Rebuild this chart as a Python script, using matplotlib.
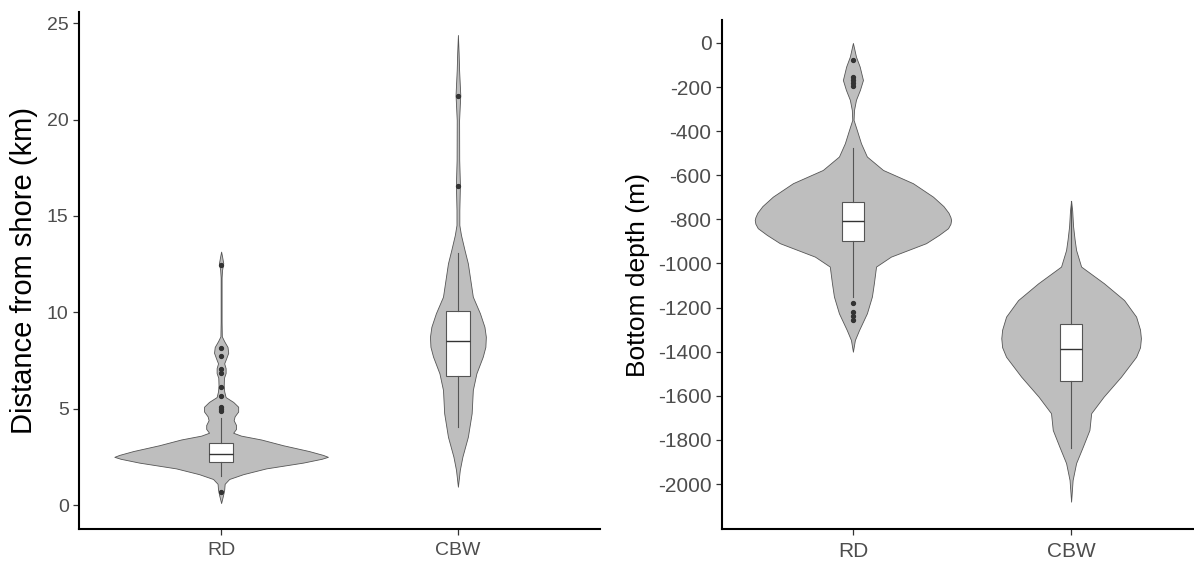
import matplotlib
matplotlib.use("Agg")
import matplotlib.pyplot as plt

plt.rcParams['font.family'] = ['Liberation Sans', 'DejaVu Sans']

categories = ["RD", "CBW"]

# violin outlines: value, half width (x units)
dist_rd_v = [13.15, 12.9, 12.55, 12.2, 11.8, 9.5, 8.75, 8.5, 8.2, 7.9, 7.6, 7.35, 7.1, 6.85, 6.6,
             6.2, 5.9, 5.6, 5.35, 5.1, 4.85, 4.6, 4.4, 4.15, 3.95, 3.75, 3.6, 3.4, 3.1, 2.8, 2.6, 2.5,
             2.4, 2.2, 1.9, 1.6, 1.35, 1.1, 0.8, 0.5, 0.1]
dist_rd_w = [0, .004, .009, .004, .002, .002, .003, .013, .027, .030, .021, .013, .019, .019, .012,
             .011, .013, .019, .051, .072, .072, .057, .053, .063, .063, .051, .084, .169, .262, .371, .43, .451,
             .425, .346, .190, .093, .034, .015, .013, .008, 0]
dist_cbw_v = [24.39, 23.46, 22.57, 21.28, 19.98, 17.9, 16.61, 15.31, 14.53, 14.01, 13.23, 12.54,
              10.81, 9.95, 9.25, 8.73, 8.21, 7.7, 6.83, 5.97, 4.76, 3.54, 2.51, 1.82, 0.95]
dist_cbw_w = [0, .003, .005, .010, .005, .0055, .0085, .006, .006, .013, .028, .042,
              .063, .093, .112, .118, .116, .105, .078, .063, .058, .042, .019, .008, 0]

depth_rd_v = [0, -62, -107, -168, -213, -258, -304, -349, -395, -455, -515, -576, -636, -697, -740,
              -770, -790, -803, -820, -840, -870, -908, -969, -1014, -1090, -1150, -1226, -1302,
              -1347, -1400]
depth_rd_w = [0, .014, .031, .046, .032, .014, .005, .003, .018, .037, .064, .138, .275, .367, .415,
              .438, .447, .45, .447, .436, .395, .335, .174, .106, .096, .087, .064, .028,
              .009, 0]
depth_cbw_v = [-717, -760, -830, -890, -939, -1014, -1090, -1166, -1241, -1300, -1339, -1380, -1423,
               -1513, -1604, -1679, -1755, -1830, -1905, -1982, -2080]
depth_cbw_w = [0, .005, .009, .016, .023, .046, .151, .243, .298, .316, .32, .316, .298,
               .229, .149, .092, .084, .054, .023, .007, 0]

# box stats: whisker low, q1, median, q3, whisker high
dist_box = [[1.5, 2.25, 2.67, 3.2, 4.5], [4.06, 6.71, 8.53, 10.08, 13.06]]
dist_out = [[12.45, 8.13, 7.73, 7.04, 6.83, 6.1, 5.66, 5.1, 5.0, 4.9, 0.67], [21.24, 16.57]]
depth_box = [[-1150, -898, -806, -720, -478], [-1837, -1533, -1388, -1274, -717]]
depth_out = [[-77, -153, -168, -183, -195, -1181, -1218, -1238, -1256], []]

fig = plt.figure(figsize=(11.94, 5.65), dpi=100)
ax1 = fig.add_axes([0.0662, 0.0637, 0.4363, 0.915])
ax2 = fig.add_axes([0.6047, 0.0637, 0.402, 0.9009])


def draw(ax, violins, boxes, outs, ylim, yticks, tsize):
    for i, (v, w) in enumerate(violins):
        pos = i + 1
        ax.fill_betweenx(v, [pos - x for x in w], [pos + x for x in w],
                         facecolor='#bebebe', edgecolor='#555555', linewidth=0.6, zorder=1)
    stats = []
    for b, o in zip(boxes, outs):
        stats.append(dict(whislo=b[0], q1=b[1], med=b[2], q3=b[3], whishi=b[4], fliers=o))
    ax.bxp(stats, positions=[1, 2], widths=0.1, showcaps=False, patch_artist=True,
           boxprops=dict(facecolor='white', edgecolor='#555555', linewidth=0.8),
           whiskerprops=dict(color='#555555', linewidth=0.8),
           medianprops=dict(color='#333333', linewidth=1.0),
           flierprops=dict(marker='o', markersize=2.8, markerfacecolor='#333333',
                           markeredgecolor='#333333'), zorder=2)
    ax.set_xlim(0.4, 2.6)
    ax.set_ylim(*ylim)
    ax.set_yticks(yticks)
    ax.set_yticklabels([str(t) for t in yticks])
    ax.set_xticks([1, 2])
    ax.set_xticklabels(categories)
    for s in ['top', 'right']:
        ax.spines[s].set_visible(False)
    for s in ['left', 'bottom']:
        ax.spines[s].set_linewidth(1.5)
        ax.spines[s].set_color('black')
    ax.tick_params(length=4.5, width=0.9, color='#333333', labelcolor='#4d4d4d',
                   labelsize=tsize, pad=3)
    ax.tick_params(axis='x', pad=5)


draw(ax1, [(dist_rd_v, dist_rd_w), (dist_cbw_v, dist_cbw_w)], dist_box, dist_out,
     (-1.245, 25.58), [0, 5, 10, 15, 20, 25], 14)
draw(ax2, [(depth_rd_v, depth_rd_w), (depth_cbw_v, depth_cbw_w)], depth_box, depth_out,
     (-2204, 104), list(range(0, -2001, -200)), 15)

fig.text(0.0205, 0.522, "Distance from shore (km)", rotation=90, ha='center', va='center', fontsize=21)
fig.text(0.534, 0.513, "Bottom depth (m)", rotation=90, ha='center', va='center', fontsize=19)

fig.savefig("out.png", dpi=100)
